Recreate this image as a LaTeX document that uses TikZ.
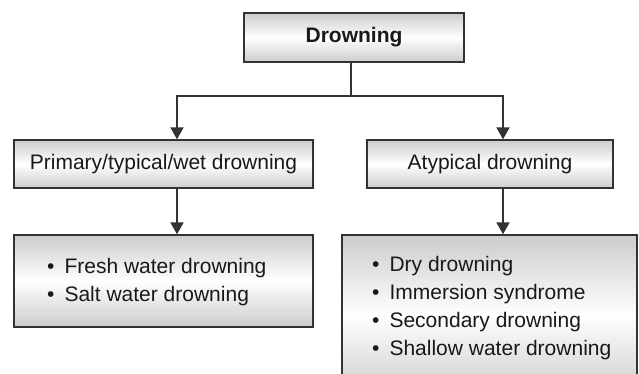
\documentclass[tikz,border=0pt]{standalone}
\usepackage{fontspec}
\setmainfont{Liberation Sans}
\usetikzlibrary{arrows.meta}
\definecolor{edgegray}{HTML}{333333}
\definecolor{shadegray}{HTML}{CCCCCC}
\tikzset{
  box/.style={draw=edgegray, line width=1.4pt, rectangle, inner sep=0pt,
    top color=shadegray, bottom color=shadegray, middle color=white},
  label/.style={inner sep=0pt, font=\fontsize{21}{28}\selectfont, text=black!90},
  conn/.style={draw=edgegray, line width=2pt},
  arr/.style={conn, -{Triangle[width=13pt,length=12pt]}},
}
\begin{document}
\begin{tikzpicture}[x=1pt,y=-1pt]
\useasboundingbox (0,0) rectangle (639,373);
\clip (0,0) rectangle (639,373);
% boxes
\node[box, minimum width=220pt, minimum height=49pt] (top) at (354,37.5) {};
\node[label, font=\fontsize{21}{28}\selectfont\bfseries] (toptext) at (top.center) {Drowning};
\node[box, minimum width=299pt, minimum height=48pt] (midl) at (163.5,164) {};
\node[label] (midltext) at (midl.center) {Primary/typical/wet drowning};
\node[box, minimum width=246pt, minimum height=48pt] (midr) at (490,164) {};
\node[label] (midrtext) at (midr.center) {Atypical drowning};
\node[box, minimum width=299pt, minimum height=92pt] (botl) at (163.5,281) {};
\node[label, align=left, anchor=west] (botltext) at (47,282)
  {\textbullet\hspace{10pt}Fresh water drowning\\\textbullet\hspace{10pt}Salt water drowning};
\node[box, minimum width=295pt, minimum height=160pt] (botr) at (489.5,315) {};
\node[label, align=left, anchor=west] (botrtext) at (372,308.5)
  {\textbullet\hspace{10pt}Dry drowning\\\textbullet\hspace{10pt}Immersion syndrome\\\textbullet\hspace{10pt}Secondary drowning\\\textbullet\hspace{10pt}Shallow water drowning};
% connectors
\coordinate (split) at (351,96);
\coordinate (splitl) at (177,96);
\coordinate (splitr) at (503,96);
\draw[conn] (top.south -| split) -- (split);
\draw[arr] (split) -- (splitl) -- (midl.north -| splitl);
\draw[arr] (split) -- (splitr) -- (midr.north -| splitr);
\draw[arr] (midl.south -| splitl) -- (botl.north -| splitl);
\draw[arr] (midr.south -| splitr) -- (botr.north -| splitr);
\end{tikzpicture}
\end{document}
